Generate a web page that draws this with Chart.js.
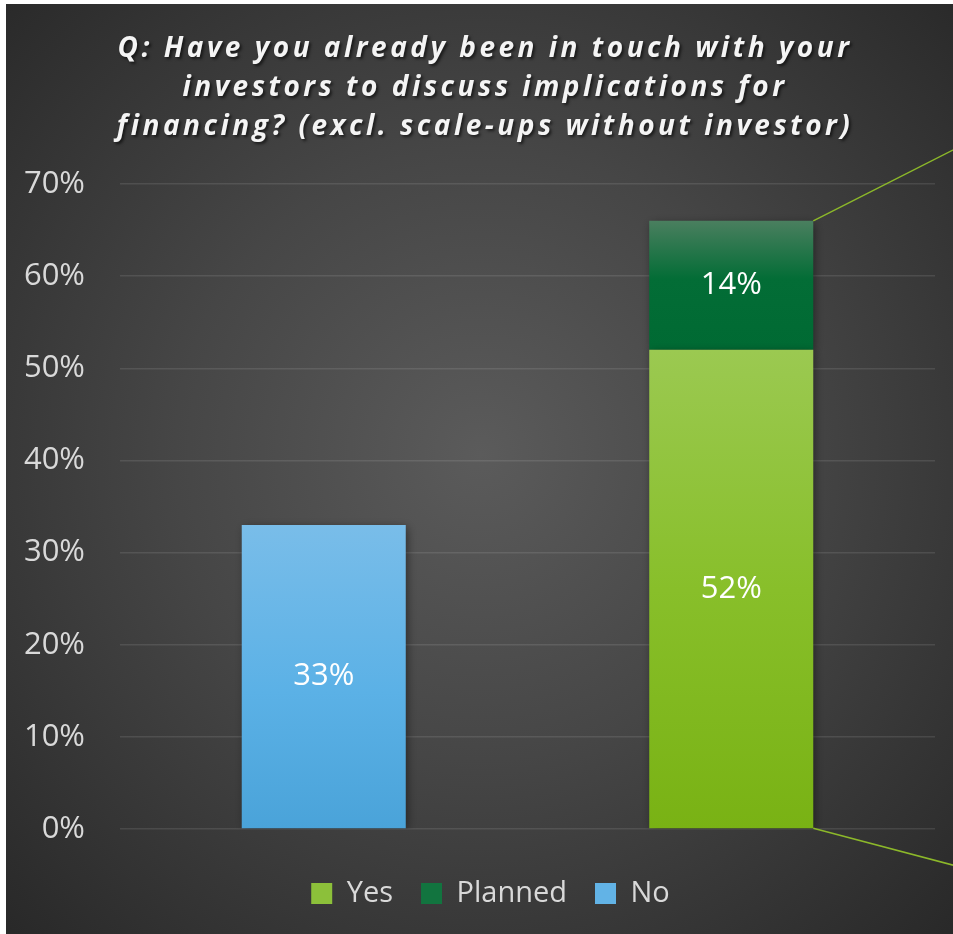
<!DOCTYPE html>
<html>
<head>
<meta charset="utf-8">
<title>Investor contact</title>
<script src="https://cdn.jsdelivr.net/npm/chart.js@4"></script>
<style>
  html, body { margin: 0; padding: 0; background: #fff; }
  #wrap { position: absolute; left: 6px; top: 4px; width: 947px; height: 930px; }
</style>
</head>
<body>
<div id="wrap"><canvas id="investorChart"></canvas></div>
<script>
// survey answers, in percent
const categories = ['No', 'Yes / Planned'];
const yesValues = [null, 52];
const plannedValues = [null, 14];
const noValues = [33, null];
const tickValues = [0, 10, 20, 30, 40, 50, 60, 70];
const titleLines = [
    'Q: Have you already been in touch with your',
    'investors to discuss implications for',
    'financing? (excl. scale-ups without investor)'
];

const FONT = '"Open Sans", "DejaVu Sans", sans-serif';

// vertical gradient spanning one stacked segment
function barGradient(stops) {
    return (context) => {
        const chart = context.chart;
        const fallback = stops[stops.length - 1][1];
        if (!chart.chartArea || context.type !== 'data' || context.raw == null) {
            return fallback;
        }
        const y = chart.scales.y;
        const i = context.dataIndex;
        let start = 0;
        for (let d = 0; d < context.datasetIndex; d++) {
            const v = chart.data.datasets[d].data[i];
            if (v != null) start += v;
        }
        const top = y.getPixelForValue(start + context.raw);
        const bottom = y.getPixelForValue(start);
        if (!isFinite(top) || !isFinite(bottom) || top === bottom) {
            return fallback;
        }
        const g = chart.ctx.createLinearGradient(0, top, 0, bottom);
        stops.forEach(([o, c]) => g.addColorStop(o, c));
        return g;
    };
}

const backgroundPlugin = {
    id: 'darkBackground',
    beforeDraw(chart) {
        const {ctx, width, height} = chart;
        const g = ctx.createRadialGradient(475, 450, 0, 475, 450, 680);
        g.addColorStop(0, '#5b5b5b');
        g.addColorStop(0.45, '#464646');
        g.addColorStop(1, '#282828');
        ctx.save();
        ctx.fillStyle = g;
        ctx.fillRect(0, 0, width, height);
        ctx.restore();
    }
};

const titlePlugin = {
    id: 'spacedTitle',
    afterDraw(chart) {
        const ctx = chart.ctx;
        ctx.save();
        ctx.font = 'italic bold 28px ' + FONT;
        ctx.letterSpacing = '3.5px';
        ctx.fillStyle = '#f4f4f4';
        ctx.textAlign = 'center';
        ctx.textBaseline = 'alphabetic';
        ctx.shadowColor = 'rgba(0,0,0,0.6)';
        ctx.shadowBlur = 3;
        ctx.shadowOffsetX = 2;
        ctx.shadowOffsetY = 2;
        titleLines.forEach((line, i) => {
            ctx.fillText(line, 479, 53 + i * 39);
        });
        ctx.restore();
    }
};

// the legend sits a little right of the plot's centre
const legendShift = {
    id: 'legendShift',
    afterLayout(chart) {
        if (chart.legend) chart.legend.left += 40;
    }
};

const barExtras = {
    id: 'barExtras',
    beforeDatasetsDraw(chart) {
        const ctx = chart.ctx;
        ctx.save();
        ctx.shadowColor = 'rgba(0,0,0,0.45)';
        ctx.shadowBlur = 9;
        ctx.shadowOffsetX = 2;
        ctx.shadowOffsetY = 2;
    },
    afterDatasetsDraw(chart) {
        const ctx = chart.ctx;
        ctx.restore();

        // connector lines leaving the stacked bar to the right
        const topBar = chart.getDatasetMeta(1).data[1];
        const baseBar = chart.getDatasetMeta(0).data[1];
        if (topBar && baseBar) {
            const right = topBar.x + topBar.width / 2;
            ctx.save();
            ctx.strokeStyle = '#8cb82a';
            ctx.lineWidth = 1.5;
            ctx.beginPath();
            ctx.moveTo(right, topBar.y);
            ctx.lineTo(right + 200, topBar.y - 200 * 0.507);
            ctx.moveTo(right, baseBar.base);
            ctx.lineTo(right + 200, baseBar.base + 200 * 0.264);
            ctx.stroke();
            ctx.restore();
        }

        // value labels in the middle of each segment
        ctx.save();
        ctx.font = '31px ' + FONT;
        ctx.fillStyle = '#ffffff';
        ctx.textAlign = 'center';
        ctx.textBaseline = 'middle';
        chart.data.datasets.forEach((ds, di) => {
            chart.getDatasetMeta(di).data.forEach((el, i) => {
                const v = ds.data[i];
                if (v == null) return;
                ctx.fillText(v + '%', el.x, (el.y + el.base) / 2);
            });
        });
        ctx.restore();
    }
};

const ctx = document.getElementById('investorChart').getContext('2d');

new Chart(ctx, {
    type: 'bar',
    data: {
        labels: categories,
        datasets: [
            {
                label: 'Yes',
                data: yesValues,
                backgroundColor: barGradient([[0, '#9bc951'], [0.5, '#88bf2a'], [1, '#79b214']]),
                legendColor: '#8cc03a'
            },
            {
                label: 'Planned',
                data: plannedValues,
                backgroundColor: barGradient([[0, '#4a7f5f'], [0.45, '#036d36'], [1, '#006a33']]),
                legendColor: '#12743f'
            },
            {
                label: 'No',
                data: noValues,
                backgroundColor: barGradient([[0, '#79bde9'], [0.55, '#5bb1e6'], [1, '#4aa3d9']]),
                legendColor: '#62b3e6'
            }
        ]
    },
    options: {
        responsive: true,
        maintainAspectRatio: false,
        animation: false,
        layout: {
            padding: { top: 180, left: 0, right: 18, bottom: 16 }
        },
        datasets: {
            bar: {
                categoryPercentage: 1,
                barPercentage: 0.4025,
                borderWidth: 0
            }
        },
        scales: {
            x: {
                stacked: true,
                grid: { display: false },
                border: { display: false },
                ticks: { display: false },
                afterFit: (scale) => { scale.height = 22; }
            },
            y: {
                stacked: true,
                min: 0,
                max: 70,
                afterBuildTicks: (scale) => {
                    scale.ticks = tickValues.map(v => ({ value: v }));
                },
                afterFit: (scale) => { scale.width = 114; },
                border: { display: false },
                grid: {
                    color: 'rgba(255,255,255,0.1)',
                    lineWidth: 1.5,
                    drawTicks: false
                },
                ticks: {
                    padding: 35,
                    color: '#d9d9d9',
                    font: { family: FONT, size: 31 },
                    callback: (v) => v + '%'
                }
            }
        },
        plugins: {
            title: { display: false },
            tooltip: { enabled: false },
            legend: {
                position: 'bottom',
                labels: {
                    boxWidth: 21,
                    boxHeight: 21,
                    padding: 28,
                    color: '#d9d9d9',
                    font: { family: FONT, size: 29 },
                    generateLabels: (chart) => chart.data.datasets.map((ds, i) => ({
                        text: ds.label,
                        fillStyle: ds.legendColor,
                        strokeStyle: ds.legendColor,
                        lineWidth: 0,
                        fontColor: '#d9d9d9',
                        hidden: false,
                        datasetIndex: i
                    }))
                }
            }
        }
    },
    plugins: [backgroundPlugin, titlePlugin, legendShift, barExtras]
});
</script>
</body>
</html>
